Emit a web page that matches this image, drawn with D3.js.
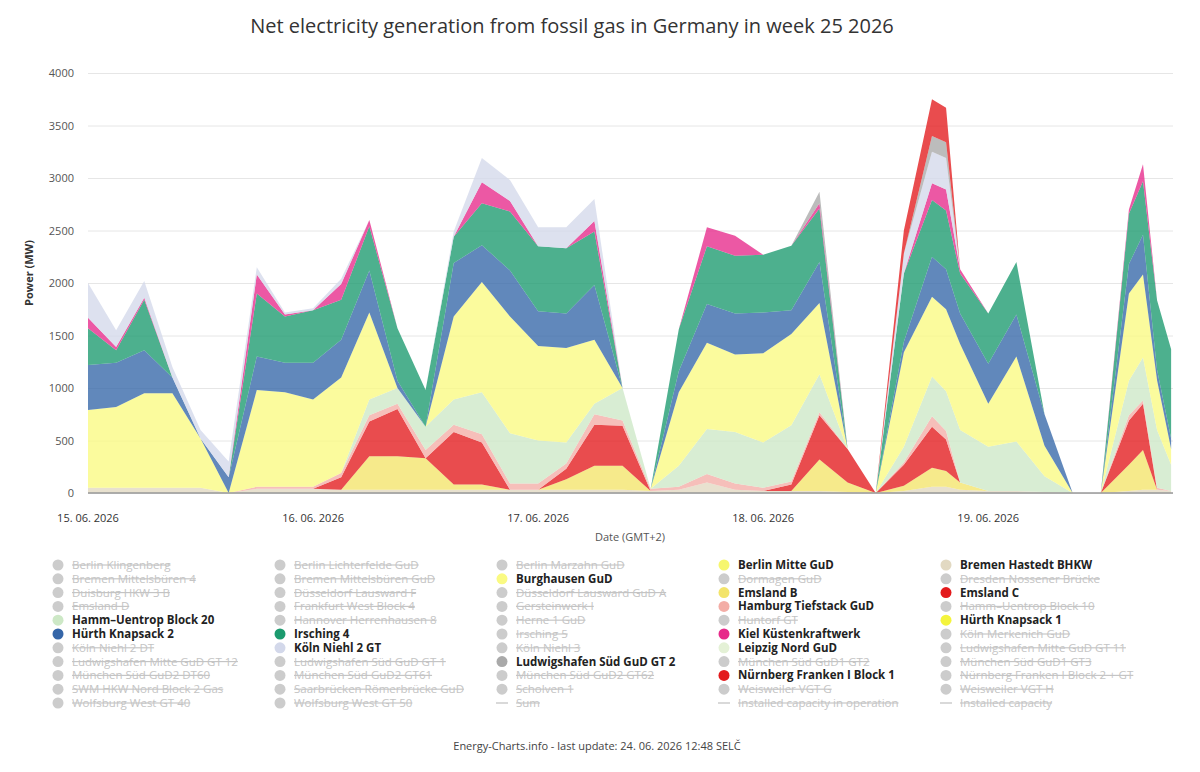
<!DOCTYPE html>
<html>
<head>
<meta charset="utf-8">
<script src="https://cdn.jsdelivr.net/npm/d3@7"></script>
<style>
body { margin: 0; background: #fff; font-family: "Open Sans", "Noto Sans", sans-serif; }
.grid line { stroke: #e6e6e6; }
.grid path { display: none; }
</style>
</head>
<body>
<div id="chart"></div>
<script>
// hours since 15.06. 00:00
var hours = [0,3,6,9,12,15,18,21,24,27,30,33,36,39,42,45,48,51,54,57,60,63,66,69,72,75,78,81,84,87,90,91.5,93,96,99,102,105,108,111,112.5,114,115.5];

var bremenHastedt = [50,50,50,50,50,0,40,40,40,30,30,30,30,30,30,30,30,30,30,30,20,30,100,30,20,20,20,10,0,20,60,60,30,20,20,10,0,0,20,30,30,20];
var emslandB      = [0,0,0,0,0,0,0,0,0,0,320,320,300,50,50,0,0,100,230,230,0,0,0,0,0,0,300,90,0,50,180,150,70,0,0,0,0,0,250,380,0,0];
var nuernberg1    = [0,0,0,0,0,0,0,0,0,120,330,450,0,500,400,0,0,100,390,380,0,0,0,0,0,60,420,320,0,200,390,300,0,0,0,0,0,0,420,440,0,0];
var hamburgTief   = [0,0,0,0,0,0,20,20,20,40,60,50,80,70,80,60,60,50,100,50,20,30,80,60,30,30,30,0,0,20,100,80,0,0,0,0,0,0,50,30,20,0];
var hammUentrop20 = [0,0,0,0,0,0,0,0,0,0,150,150,220,240,400,480,410,200,100,310,0,200,430,490,430,535,360,0,0,150,380,380,500,420,470,150,0,0,330,410,550,250];
var burghausen    = [740,770,900,900,470,0,920,900,830,910,830,0,0,790,1050,1110,900,900,610,0,0,700,820,740,850,870,680,0,0,900,760,780,820,410,810,290,0,0,830,790,475,150];
var huerth2       = [430,420,410,150,0,150,320,280,350,360,400,70,0,510,350,440,330,330,520,0,0,200,370,390,390,225,390,0,0,100,380,380,290,380,400,300,0,0,280,380,100,100];
var irsching4     = [350,120,480,0,0,0,600,440,500,380,420,500,350,250,400,560,620,620,510,0,0,400,550,550,550,615,510,0,0,650,540,560,380,480,500,0,0,0,480,510,660,850];
var kiel          = [100,30,20,0,0,0,180,20,0,150,60,0,0,0,200,100,0,0,100,0,0,0,180,190,0,0,50,0,0,0,160,200,40,0,0,0,0,0,40,160,0,0];
var koelnNiehl2   = [330,160,160,100,80,150,70,20,20,50,0,0,0,50,230,200,180,200,210,0,0,0,0,0,0,0,0,0,0,190,300,300,0,0,0,0,0,0,0,0,0,0];
var ludwigshafen2 = [0,0,0,0,0,0,0,0,0,0,0,0,0,0,0,0,0,0,0,0,0,0,0,0,0,0,110,0,0,0,150,150,0,0,0,0,0,0,0,0,0,0];
var emslandC      = [0,0,0,0,0,0,0,0,0,0,0,0,0,0,0,0,0,0,0,0,0,0,0,0,0,0,0,0,0,220,350,330,0,0,0,0,0,0,0,0,0,0];

var seriesNames  = ["Bremen Hastedt BHKW","Emsland B","Nürnberg Franken I Block 1","Hamburg Tiefstack GuD","Hamm–Uentrop Block 20","Burghausen GuD","Hürth Knapsack 2","Irsching 4","Kiel Küstenkraftwerk","Köln Niehl 2 GT","Ludwigshafen Süd GuD GT 2","Emsland C"];
var seriesValues = [bremenHastedt,emslandB,nuernberg1,hamburgTief,hammUentrop20,burghausen,huerth2,irsching4,kiel,koelnNiehl2,ludwigshafen2,emslandC];

var yTicks = [0,500,1000,1500,2000,2500,3000,3500,4000];
var xTickHours = [0,24,48,72,96];
var xTickLabels = ["15. 06. 2026","16. 06. 2026","17. 06. 2026","18. 06. 2026","19. 06. 2026"];

var legendItems = [
  "Berlin Klingenberg","Berlin Lichterfelde GuD","Berlin Marzahn GuD","Berlin Mitte GuD","Bremen Hastedt BHKW",
  "Bremen Mittelsbüren 4","Bremen Mittelsbüren GuD","Burghausen GuD","Dormagen GuD","Dresden Nossener Brücke",
  "Duisburg HKW 3 B","Düsseldorf Lausward F","Düsseldorf Lausward GuD A","Emsland B","Emsland C",
  "Emsland D","Frankfurt West Block 4","Gersteinwerk I","Hamburg Tiefstack GuD","Hamm–Uentrop Block 10",
  "Hamm–Uentrop Block 20","Hannover Herrenhausen 8","Herne 1 GuD","Huntorf GT","Hürth Knapsack 1",
  "Hürth Knapsack 2","Irsching 4","Irsching 5","Kiel Küstenkraftwerk","Köln Merkenich GuD",
  "Köln Niehl 2 DT","Köln Niehl 2 GT","Köln Niehl 3","Leipzig Nord GuD","Ludwigshafen Mitte GuD GT 11",
  "Ludwigshafen Mitte GuD GT 12","Ludwigshafen Süd GuD GT 1","Ludwigshafen Süd GuD GT 2","München Süd GuD1 GT2","München Süd GuD1 GT3",
  "München Süd GuD2 DT60","München Süd GuD2 GT61","München Süd GuD2 GT62","Nürnberg Franken I Block 1","Nürnberg Franken I Block 2 + GT",
  "SWM HKW Nord Block 2 Gas","Saarbrücken Römerbrücke GuD","Scholven 1","Weisweiler VGT G","Weisweiler VGT H",
  "Wolfsburg West GT 40","Wolfsburg West GT 50","Sum","Installed capacity in operation","Installed capacity"
];
var lineItems = ["Sum","Installed capacity in operation","Installed capacity"];

var colors = {
  "Berlin Mitte GuD": "#f6f66e",
  "Bremen Hastedt BHKW": "#e2d9c2",
  "Burghausen GuD": "#fafa82",
  "Emsland B": "#f3e46a",
  "Emsland C": "#e31a1c",
  "Hamburg Tiefstack GuD": "#f3ada6",
  "Hamm–Uentrop Block 20": "#cde8c6",
  "Hürth Knapsack 1": "#f4f43c",
  "Hürth Knapsack 2": "#3566a8",
  "Irsching 4": "#1b9a6e",
  "Kiel Küstenkraftwerk": "#e7298a",
  "Köln Niehl 2 GT": "#d3d8ea",
  "Leipzig Nord GuD": "#e4f1d6",
  "Ludwigshafen Süd GuD GT 2": "#a9a9a9",
  "Nürnberg Franken I Block 1": "#e31a1c"
};

var svgWidth = 1200, svgHeight = 772;
var margin = {top: 73, right: 27, bottom: 279, left: 88};
var width = svgWidth - margin.left - margin.right;
var height = svgHeight - margin.top - margin.bottom;

var svg = d3.select("#chart").append("svg")
  .attr("width", svgWidth).attr("height", svgHeight);

svg.append("text")
  .attr("x", 572).attr("y", 33)
  .attr("text-anchor", "middle")
  .style("font-size", "20px").style("fill", "#333")
  .text("Net electricity generation from fossil gas in Germany in week 25 2026");

var chartGroup = svg.append("g").attr("transform", `translate(${margin.left}, ${margin.top})`);

var xScale = d3.scaleLinear().domain([0, 115.7]).range([0, width]);
var yScale = d3.scaleLinear().domain([0, 4000]).range([height, 0]);

// grid + y labels
chartGroup.append("g").attr("class", "grid")
  .call(d3.axisLeft(yScale).tickValues(yTicks).tickSize(-width).tickFormat(""));
yTicks.forEach(function(t) {
  chartGroup.append("text")
    .attr("x", -14).attr("y", yScale(t) + 4)
    .attr("text-anchor", "end")
    .style("font-size", "11px").style("fill", "#555")
    .text(t);
});

// stacked areas
var table = hours.map(function(h, i) {
  var row = {h: h};
  seriesNames.forEach(function(n, k) { row[n] = seriesValues[k][i]; });
  return row;
});
var stack = d3.stack().keys(seriesNames)(table);
var area = d3.area()
  .x(d => xScale(d.data.h))
  .y0(d => yScale(d[0]))
  .y1(d => yScale(d[1]));

chartGroup.append("g").selectAll("path")
  .data(stack).enter().append("path")
  .attr("d", area)
  .attr("fill", d => colors[d.key])
  .attr("fill-opacity", 0.78);

// x axis
chartGroup.append("line")
  .attr("x1", 0).attr("x2", width).attr("y1", height).attr("y2", height)
  .attr("stroke", "#999").attr("stroke-width", 1.5);
xTickHours.forEach(function(h, i) {
  chartGroup.append("text")
    .attr("x", xScale(h)).attr("y", height + 29)
    .attr("text-anchor", "middle")
    .style("font-size", "11px").style("fill", "#333")
    .text(xTickLabels[i]);
});

chartGroup.append("text")
  .attr("transform", "rotate(-90)")
  .attr("x", -height / 2 + 10).attr("y", -55)
  .attr("text-anchor", "middle")
  .style("font-size", "11px").style("font-weight", "bold").style("fill", "#333")
  .text("Power (MW)");

svg.append("text")
  .attr("x", 630).attr("y", 541)
  .attr("text-anchor", "middle")
  .style("font-size", "11px").style("fill", "#555")
  .text("Date (GMT+2)");

// legend
var legend = svg.append("g");
legendItems.forEach(function(name, i) {
  var col = i % 5, row = Math.floor(i / 5);
  var x = 58 + col * 222, y = 565 + row * 13.8;
  var active = colors[name] !== undefined;
  if (lineItems.indexOf(name) >= 0) {
    legend.append("line").attr("x1", x - 6).attr("x2", x + 6)
      .attr("y1", y).attr("y2", y).attr("stroke", "#ccc").attr("stroke-width", 1.5);
  } else {
    legend.append("circle").attr("cx", x).attr("cy", y).attr("r", 5.5)
      .attr("fill", active ? colors[name] : "#cccccc");
  }
  legend.append("text")
    .attr("x", x + 14).attr("y", y + 4)
    .style("font-size", "11.5px")
    .style("font-weight", active ? "bold" : "normal")
    .style("fill", active ? "#222" : "#c4c4c4")
    .style("text-decoration", active ? "none" : "line-through")
    .text(name);
});

svg.append("text")
  .attr("x", 597).attr("y", 750)
  .attr("text-anchor", "middle")
  .style("font-size", "11px").style("fill", "#444")
  .text("Energy-Charts.info - last update: 24. 06. 2026 12:48 SELČ");
</script>
</body>
</html>
